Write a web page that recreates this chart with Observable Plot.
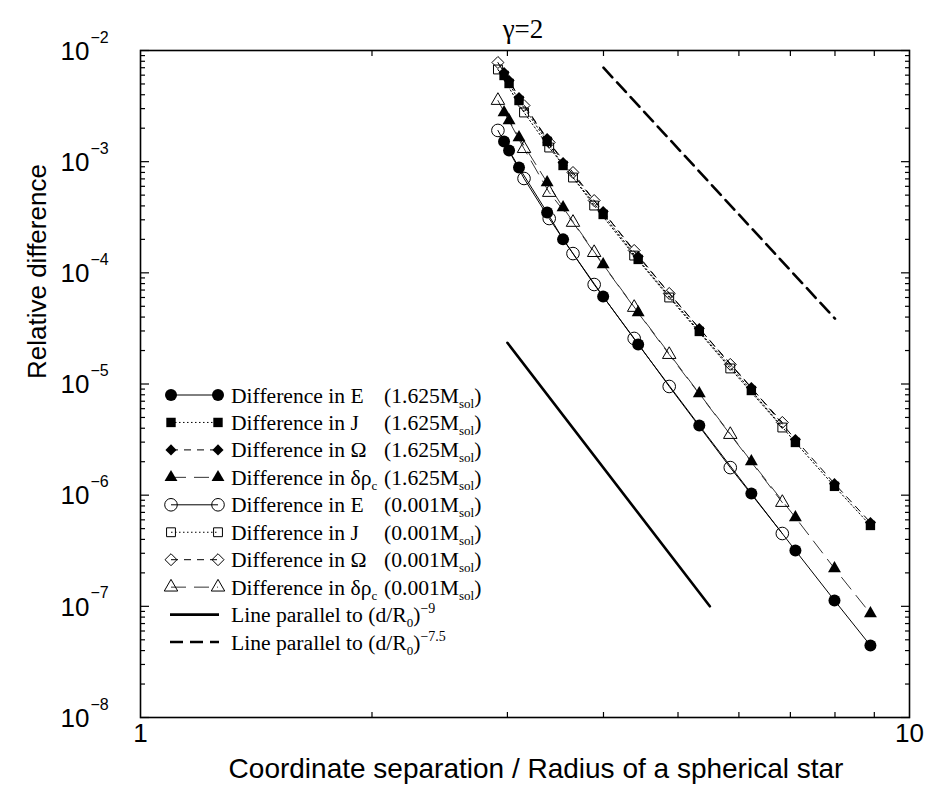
<!DOCTYPE html>
<html>
<head>
<meta charset="utf-8">
<script src="https://cdn.jsdelivr.net/npm/d3@7"></script>
<script src="https://cdn.jsdelivr.net/npm/@observablehq/plot@0.6"></script>
<style>
  body { margin: 0; background: #fff; }
  svg { display: block; }
</style>
</head>
<body>
<div id="chart"></div>
<script>
// ---------- data ----------
const xHeavy = [2.970, 3.015, 3.106, 3.379, 3.544, 3.996, 4.438, 5.329, 6.228, 7.106, 7.988, 8.896];
const xLight = [2.916, 3.153, 3.400, 3.651, 3.890, 4.385, 4.870, 5.847, 6.833];

const energyHeavy = [1.52e-3, 1.26e-3, 8.86e-4, 3.49e-4, 2.0e-4, 6.13e-5, 2.27e-5, 4.23e-6, 1.035e-6, 3.18e-7, 1.13e-7, 4.44e-8];
const angMomHeavy = [5.96e-3, 5.05e-3, 3.55e-3, 1.52e-3, 9.24e-4, 3.35e-4, 1.32e-4, 2.97e-5, 8.74e-6, 2.98e-6, 1.20e-6, 5.34e-7];
const omegaHeavy  = [6.34e-3, 5.37e-3, 3.78e-3, 1.615e-3, 9.83e-4, 3.56e-4, 1.40e-4, 3.16e-5, 9.30e-6, 3.17e-6, 1.27e-6, 5.68e-7];
const rhoHeavy    = [2.77e-3, 2.35e-3, 1.65e-3, 6.50e-4, 3.87e-4, 1.19e-4, 4.40e-5, 8.21e-6, 2.01e-6, 6.30e-7, 2.19e-7, 8.62e-8];

const energyLight = [1.91e-3, 7.06e-4, 3.08e-4, 1.49e-4, 7.85e-5, 2.57e-5, 9.50e-6, 1.77e-6, 4.52e-7];
const angMomLight = [6.75e-3, 2.77e-3, 1.34e-3, 7.20e-4, 4.03e-4, 1.43e-4, 6.00e-5, 1.38e-5, 4.06e-6];
const omegaLight  = [7.80e-3, 3.20e-3, 1.49e-3, 7.99e-4, 4.47e-4, 1.59e-4, 6.52e-5, 1.50e-5, 4.51e-6];
const rhoLight    = [3.55e-3, 1.31e-3, 5.28e-4, 2.84e-4, 1.52e-4, 4.88e-5, 1.84e-5, 3.51e-6, 8.59e-7];

// reference slopes
const refNineX = [3.0, 5.5];
const refNineY = [2.35e-5, 1.0e-7];
const refSevenHalfX = [4.0, 8.0];
const refSevenHalfY = [7.0e-3, 3.87e-5];

// ticks
const yMajorTicks = [1e-8, 1e-7, 1e-6, 1e-5, 1e-4, 1e-3, 1e-2];
const yTickBase = ["10", "10", "10", "10", "10", "10", "10"];
const yTickExponent = ["−8", "−7", "−6", "−5", "−4", "−3", "−2"];
const xLabeledTicks = [1, 10];
const xTickLabels = ["1", "10"];
const xMinorTicks = [2, 3, 4, 5, 6, 7, 8, 9];
const minorMultipliers = [2, 3, 4, 5, 6, 7, 8, 9];

const titleText = "γ=2";
const xAxisTitle = "Coordinate separation / Radius of a spherical star";
const yAxisTitle = "Relative difference";

// ---------- build ----------
const SANS = "Liberation Sans, Arial, Helvetica, sans-serif";
const SERIF = "Liberation Serif, Times New Roman, Times, serif";

const yMinorTicks = yMajorTicks.slice(0, -1).flatMap(p => minorMultipliers.map(m => m * p));

const seriesDefs = [
  {x: xHeavy, y: energyHeavy, symbol: "circle",   r: 6.0, filled: true,  dash: null,      stroke: "#000"},
  {x: xHeavy, y: angMomHeavy, symbol: "square",   r: 5.3, filled: true,  dash: "1.5,2.5", stroke: "#000"},
  {x: xHeavy, y: omegaHeavy,  symbol: "diamond2", r: 5.0, filled: true,  dash: "7,6",     stroke: "#000"},
  {x: xHeavy, y: rhoHeavy,    symbol: "triangle", r: 4.8, filled: true,  dash: "15,8",    stroke: "#333"},
  {x: xLight, y: energyLight, symbol: "circle",   r: 6.3, filled: false, dash: null,      stroke: "#000"},
  {x: xLight, y: angMomLight, symbol: "square",   r: 5.0, filled: false, dash: "1.5,2.5", stroke: "#000"},
  {x: xLight, y: omegaLight,  symbol: "diamond2", r: 5.4, filled: false, dash: "7,6",     stroke: "#000"},
  {x: xLight, y: rhoLight,    symbol: "triangle", r: 5.0, filled: false, dash: "15,8",    stroke: "#333"}
];
seriesDefs.forEach(s => { s.rows = s.x.map((x, i) => ({x, y: s.y[i]})); });

const refNineRows = refNineX.map((x, i) => ({x, y: refNineY[i]}));
const refSevenHalfRows = refSevenHalfX.map((x, i) => ({x, y: refSevenHalfY[i]}));

const yTickRows = yMajorTicks.map((v, i) => ({v, base: yTickBase[i], exp: yTickExponent[i]}));
const xTickRows = xLabeledTicks.map((v, i) => ({v, label: xTickLabels[i]}));

const marks = [
  // reference lines
  Plot.line(refNineRows, {x: "x", y: "y", stroke: "#000", strokeWidth: 2.6}),
  Plot.line(refSevenHalfRows, {x: "x", y: "y", stroke: "#000", strokeWidth: 2.6, strokeDasharray: "13,7"}),
  // series lines
  ...seriesDefs.map(s => Plot.line(s.rows, {x: "x", y: "y", stroke: s.stroke, strokeWidth: 1, strokeDasharray: s.dash})),
  // series markers
  ...seriesDefs.map(s => Plot.dot(s.rows, {
    x: "x", y: "y", symbol: s.symbol, r: s.r,
    fill: s.filled ? "#000" : "none",
    stroke: s.filled ? "none" : "#000",
    strokeWidth: 1
  })),
  // inward ticks
  Plot.axisY(yMajorTicks, {anchor: "left", tickSize: -9, fill: "none", label: null, tickFormat: () => "", strokeWidth: 1.2}),
  Plot.axisY(yMinorTicks, {anchor: "left", tickSize: -5, fill: "none", label: null, tickFormat: () => "", strokeWidth: 1.2}),
  Plot.axisY(yMajorTicks, {anchor: "right", tickSize: -9, fill: "none", label: null, tickFormat: () => "", strokeWidth: 1.2}),
  Plot.axisY(yMinorTicks, {anchor: "right", tickSize: -5, fill: "none", label: null, tickFormat: () => "", strokeWidth: 1.2}),
  Plot.axisX(xMinorTicks, {anchor: "bottom", tickSize: -5, fill: "none", label: null, tickFormat: () => "", strokeWidth: 1.2}),
  Plot.axisX(xMinorTicks, {anchor: "top", tickSize: -5, fill: "none", label: null, tickFormat: () => "", strokeWidth: 1.2}),
  Plot.frame({stroke: "#000", strokeWidth: 1.6}),
  // tick labels
  Plot.text(yTickRows, {y: "v", text: "base", frameAnchor: "left", textAnchor: "end", dx: -51, dy: 1, fontSize: 26, fontFamily: SANS, fill: "#000"}),
  Plot.text(yTickRows, {y: "v", text: "exp", frameAnchor: "left", textAnchor: "start", dx: -50, dy: -13, fontSize: 16, fontFamily: SANS, fill: "#000"}),
  Plot.text(xTickRows, {x: "v", text: "label", frameAnchor: "bottom", dy: 24, fontSize: 26, fontFamily: SANS, fill: "#000"}),
  // titles
  Plot.text([titleText], {text: d => d, frameAnchor: "top", dy: -32, dx: -2, fontSize: 27, fontFamily: SERIF, fill: "#000"}),
  Plot.text([xAxisTitle], {text: d => d, frameAnchor: "bottom", dy: 60, dx: 11, fontSize: 28, fontFamily: SANS, fill: "#000"}),
  Plot.text([yAxisTitle], {text: d => d, frameAnchor: "left", rotate: -90, dx: -103, dy: -5, fontSize: 26, fontFamily: SANS, fill: "#000"})
];

const plot = Plot.plot({
  width: 946,
  height: 793,
  marginLeft: 140,
  marginRight: 37,
  marginTop: 50,
  marginBottom: 76,
  x: {type: "log", domain: [1, 10]},
  y: {type: "log", domain: [1e-8, 1e-2]},
  style: {background: "#fff", overflow: "visible"},
  marks
});
document.getElementById("chart").appendChild(plot);

// ---------- legend (inside the frame) ----------
const legendEntries = [
  {s: 0, parts: [["Difference in E"], ["(1.625M", "tab"], ["sol", "sub"], [")"]]},
  {s: 1, parts: [["Difference in J"], ["(1.625M", "tab"], ["sol", "sub"], [")"]]},
  {s: 2, parts: [["Difference in Ω"], ["(1.625M", "tab"], ["sol", "sub"], [")"]]},
  {s: 3, parts: [["Difference in δρ"], ["c", "sub"], ["(1.625M", "tab"], ["sol", "sub"], [")"]]},
  {s: 4, parts: [["Difference in E"], ["(0.001M", "tab"], ["sol", "sub"], [")"]]},
  {s: 5, parts: [["Difference in J"], ["(0.001M", "tab"], ["sol", "sub"], [")"]]},
  {s: 6, parts: [["Difference in Ω"], ["(0.001M", "tab"], ["sol", "sub"], [")"]]},
  {s: 7, parts: [["Difference in δρ"], ["c", "sub"], ["(0.001M", "tab"], ["sol", "sub"], [")"]]},
  {ref: null, parts: [["Line parallel to (d/R"], ["0", "sub"], [")"], ["−9", "sup"]]},
  {ref: "13,7", parts: [["Line parallel to (d/R"], ["0", "sub"], [")"], ["−7.5", "sup"]]}
];

const symbolMap = {circle: d3.symbolCircle, square: d3.symbolSquare, diamond2: d3.symbolDiamond2, triangle: d3.symbolTriangle};
const svg = d3.select(plot);
const leg = svg.append("g").attr("class", "legend").attr("text-anchor", "start");
const row0 = 395, rowStep = 27.45;
const mL = 171, mR = 218, textX = 231, tabX = 384;

legendEntries.forEach((e, i) => {
  const y = row0 + i * rowStep;
  if (e.s !== undefined) {
    const s = seriesDefs[e.s];
    leg.append("line").attr("x1", mL).attr("x2", mR).attr("y1", y).attr("y2", y)
      .attr("stroke", s.stroke).attr("stroke-width", 1).attr("stroke-dasharray", s.dash);
    const path = d3.symbol(symbolMap[s.symbol], Math.PI * s.r * s.r)();
    [mL, mR].forEach(cx => {
      leg.append("path").attr("d", path).attr("transform", `translate(${cx},${y})`)
        .attr("fill", s.filled ? "#000" : "none")
        .attr("stroke", s.filled ? "none" : "#000").attr("stroke-width", 1);
    });
  } else {
    leg.append("line").attr("x1", mL - 1).attr("x2", mR + 1).attr("y1", y).attr("y2", y)
      .attr("stroke", "#000").attr("stroke-width", 2.6).attr("stroke-dasharray", e.ref);
  }
  const t = leg.append("text").attr("x", textX).attr("y", y + 7.5)
    .attr("text-anchor", "start")
    .attr("font-family", SERIF).attr("font-size", 21.6).attr("fill", "#000")
    .style("white-space", "pre");
  let shift = 0;
  e.parts.forEach(([txt, kind]) => {
    const sp = t.append("tspan").text(txt);
    if (kind === "sub") {
      sp.attr("font-size", 13).attr("dy", 5 - shift); shift = 5;
    } else if (kind === "sup") {
      sp.attr("font-size", 14).attr("dy", -9 - shift); shift = -9;
    } else {
      sp.attr("font-size", 21.6).attr("dy", -shift); shift = 0;
      if (kind === "tab") sp.attr("x", tabX);
    }
  });
});
</script>
</body>
</html>
